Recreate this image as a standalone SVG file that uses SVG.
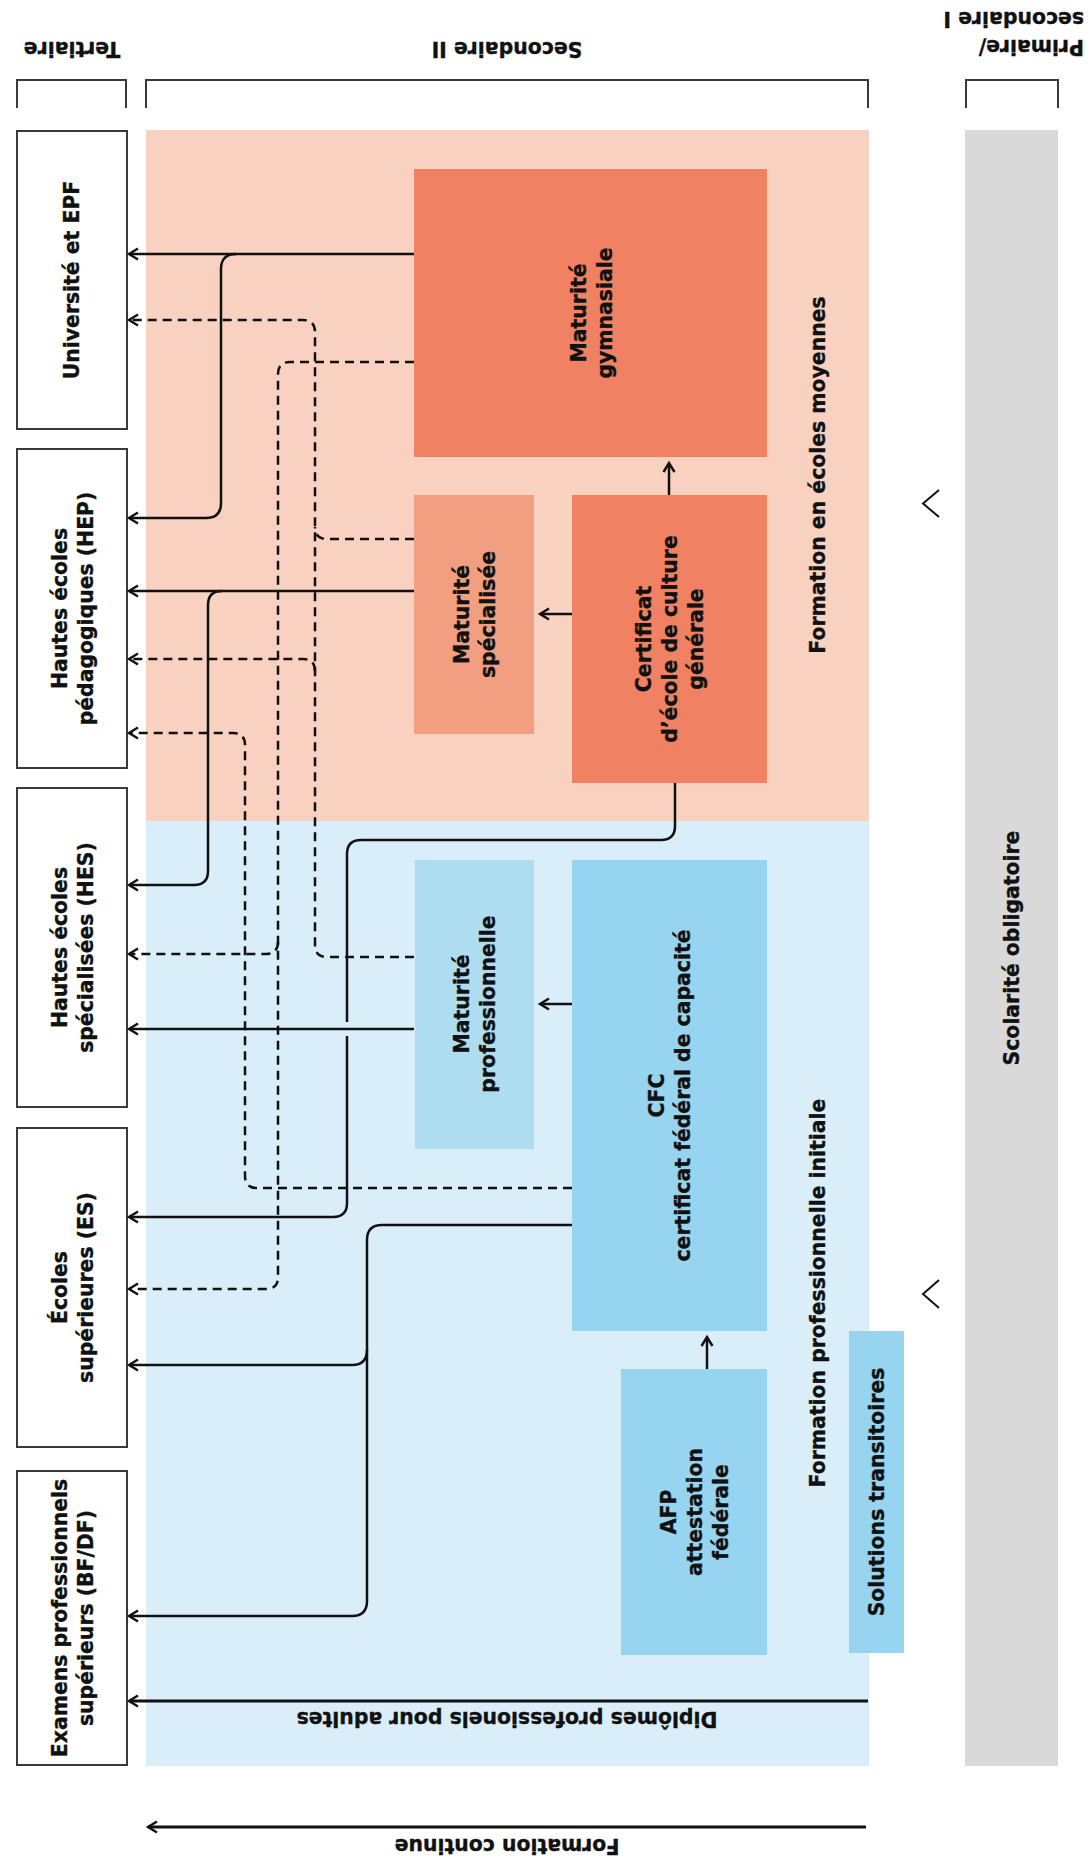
<svg xmlns="http://www.w3.org/2000/svg" width="1090" height="1863" viewBox="0 0 1090 1863">
<style>
text{font-family:"DejaVu Sans","Liberation Sans",sans-serif;font-weight:bold;font-size:20.4px;fill:#111;stroke:#111;stroke-width:0.35}
.m{text-anchor:middle}
.tbox{fill:#fff;stroke:#3a3a3a;stroke-width:2}
.br{fill:none;stroke:#3a3a3a;stroke-width:2}
.c{fill:none;stroke:#111;stroke-width:2.5}
.d{fill:none;stroke:#111;stroke-width:2.5;stroke-dasharray:9 6}
.chev{fill:none;stroke:#111;stroke-width:2}
</style>
<defs>
<marker id="ah" markerUnits="userSpaceOnUse" viewBox="-12 -8 14 16" markerWidth="14" markerHeight="16" refX="0" refY="0" orient="auto" overflow="visible">
<path d="M-9,-5.5 L0,0 L-9,5.5" fill="none" stroke="#111" stroke-width="2.4" stroke-dasharray="none"/>
</marker>
</defs>
<rect width="1090" height="1863" fill="#fff"/>

<g id="headers">
<path class="br" d="M17,108 V80 H126 V108"/>
<path class="br" d="M146,108 V80 H868 V108"/>
<path class="br" d="M966,108 V80 H1058 V108"/>
<text class="m" transform="translate(72,42) rotate(180)">Tertiaire</text>
<text class="m" transform="translate(507,42) rotate(180)">Secondaire II</text>
<text transform="translate(1084,40) rotate(180)"><tspan x="0" y="0">Primaire/</tspan><tspan x="0" y="28">secondaire I</tspan></text>
</g>

<g id="backgrounds">
<rect x="146" y="130" width="723" height="691" fill="#F9D1C0"/>
<rect x="146" y="821" width="723" height="945" fill="#D9EEF9"/>
<text class="m" transform="translate(825,475) rotate(-90)">Formation en écoles moyennes</text>
<text class="m" transform="translate(825,1293) rotate(-90)">Formation professionnelle initiale</text>
</g>

<g id="scolarite">
<rect x="965" y="130" width="93" height="1636" fill="#D9D9D9"/>
<text class="m" transform="translate(1019,948) rotate(-90)">Scolarité obligatoire</text>
</g>
<path class="chev" d="M939,490 L923,503.5 L939,517"/>
<path class="chev" d="M939,1280 L923,1294 L939,1308"/>

<g id="universite">
<rect class="tbox" x="17" y="131" width="110" height="298"/>
<text class="m" transform="translate(72,280) rotate(-90)"><tspan x="0" y="7.3">Université et EPF</tspan></text>
</g>
<g id="hep">
<rect class="tbox" x="17" y="449" width="110" height="319"/>
<text class="m" transform="translate(73,608.5) rotate(-90)"><tspan x="0" y="-5.7">Hautes écoles</tspan><tspan x="0" y="20.3">pédagogiques (HEP)</tspan></text>
</g>
<g id="hes">
<rect class="tbox" x="17" y="788" width="110" height="319"/>
<text class="m" transform="translate(73,947.5) rotate(-90)"><tspan x="0" y="-5.7">Hautes écoles</tspan><tspan x="0" y="20.3">spécialisées (HES)</tspan></text>
</g>
<g id="es">
<rect class="tbox" x="17" y="1128" width="110" height="319"/>
<text class="m" transform="translate(73,1287.5) rotate(-90)"><tspan x="0" y="-5.7">Écoles</tspan><tspan x="0" y="20.3">supérieures (ES)</tspan></text>
</g>
<g id="examens">
<rect class="tbox" x="17" y="1471" width="110" height="294"/>
<text class="m" transform="translate(73,1618) rotate(-90)"><tspan x="0" y="-5.7">Examens professionnels</tspan><tspan x="0" y="20.3">supérieurs (BF/DF)</tspan></text>
</g>

<g id="maturite-gymnasiale">
<rect x="414" y="169" width="353" height="288" fill="#F08263"/>
<text class="m" transform="translate(591.5,313) rotate(-90)"><tspan x="0" y="-5.7">Maturité</tspan><tspan x="0" y="20.3">gymnasiale</tspan></text>
</g>
<g id="maturite-specialisee">
<rect x="414" y="495" width="120" height="239" fill="#F29E80"/>
<text class="m" transform="translate(475,614.5) rotate(-90)"><tspan x="0" y="-5.7">Maturité</tspan><tspan x="0" y="20.3">spécialisée</tspan></text>
</g>
<g id="certificat-ecg">
<rect x="572" y="495" width="195" height="288" fill="#F08263"/>
<text class="m" transform="translate(670,639) rotate(-90)"><tspan x="0" y="-18.7">Certificat</tspan><tspan x="0" y="7.3">d’école de culture</tspan><tspan x="0" y="33.3">générale</tspan></text>
</g>
<g id="maturite-professionnelle">
<rect x="415" y="860" width="119" height="289" fill="#AEDDF2"/>
<text class="m" transform="translate(475,1004) rotate(-90)"><tspan x="0" y="-5.7">Maturité</tspan><tspan x="0" y="20.3">professionnelle</tspan></text>
</g>
<g id="cfc">
<rect x="572" y="860" width="195" height="471" fill="#97D4EF"/>
<text class="m" transform="translate(670,1095.5) rotate(-90)"><tspan x="0" y="-5.7">CFC</tspan><tspan x="0" y="20.3">certificat fédéral de capacité</tspan></text>
</g>
<g id="afp">
<rect x="621" y="1369" width="146" height="286" fill="#97D4EF"/>
<text class="m" transform="translate(695,1512) rotate(-90)"><tspan x="0" y="-18.7">AFP</tspan><tspan x="0" y="7.3">attestation</tspan><tspan x="0" y="33.3">fédérale</tspan></text>
</g>
<g id="solutions-transitoires">
<rect x="849" y="1331" width="55" height="322" fill="#97D4EF"/>
<text class="m" transform="translate(884,1492) rotate(-90)">Solutions transitoires</text>
</g>

<g id="connectors">
<path class="c" marker-end="url(#ah)" d="M414,254 H129"/>
<path class="c" marker-end="url(#ah)" d="M236,254 Q221,254 221,269 V503 Q221,518 206,518 H129"/>
<path class="c" marker-end="url(#ah)" d="M414,591 H129"/>
<path class="c" marker-end="url(#ah)" d="M222,591 Q208,591 208,605 V871 Q208,885 194,885 H129"/>
<path class="c" marker-end="url(#ah)" d="M414,1029 H129"/>
<path class="c" d="M675,783 V826 Q675,840 661,840 H361 Q347,840 347,854 V1022"/>
<path class="c" marker-end="url(#ah)" d="M347,1036 V1203 Q347,1217 333,1217 H129"/>
<path class="c" marker-end="url(#ah)" d="M572,1225 H382 Q367,1225 367,1240 V1601 Q367,1616 352,1616 H129"/>
<path class="c" marker-end="url(#ah)" d="M367,1350 Q367,1365 352,1365 H129"/>
<path class="d" marker-end="url(#ah)" d="M414,957 H327 Q315,957 315,945 V332 Q315,320 303,320 H129"/>
<path class="d" marker-end="url(#ah)" d="M315,671 Q315,659 303,659 H129"/>
<path class="d" d="M414,539 H327 Q315,539 315,527"/>
<path class="d" marker-end="url(#ah)" d="M414,362 H290 Q278,362 278,374 V1277 Q278,1289 266,1289 H129"/>
<path class="d" marker-end="url(#ah)" d="M278,942 Q278,954 266,954 H129"/>
<path class="d" marker-end="url(#ah)" d="M572,1188 H257 Q245,1188 245,1176 V745 Q245,733 233,733 H129"/>
<path class="c" marker-end="url(#ah)" d="M669,495 V463"/>
<path class="c" marker-end="url(#ah)" d="M572,614 H540"/>
<path class="c" marker-end="url(#ah)" d="M572,1004 H540"/>
<path class="c" marker-end="url(#ah)" d="M707,1369 V1337"/>
<path class="c" style="stroke-width:2.9" marker-end="url(#ah)" d="M868,1701 H129"/>
<path class="c" style="stroke-width:2.9" marker-end="url(#ah)" d="M866,1827 H148"/>
</g>
<text class="m" transform="translate(507,1712) rotate(180)">Diplômes professionels pour adultes</text>
<text class="m" transform="translate(507,1838.5) rotate(180)">Formation continue</text>
</svg>
